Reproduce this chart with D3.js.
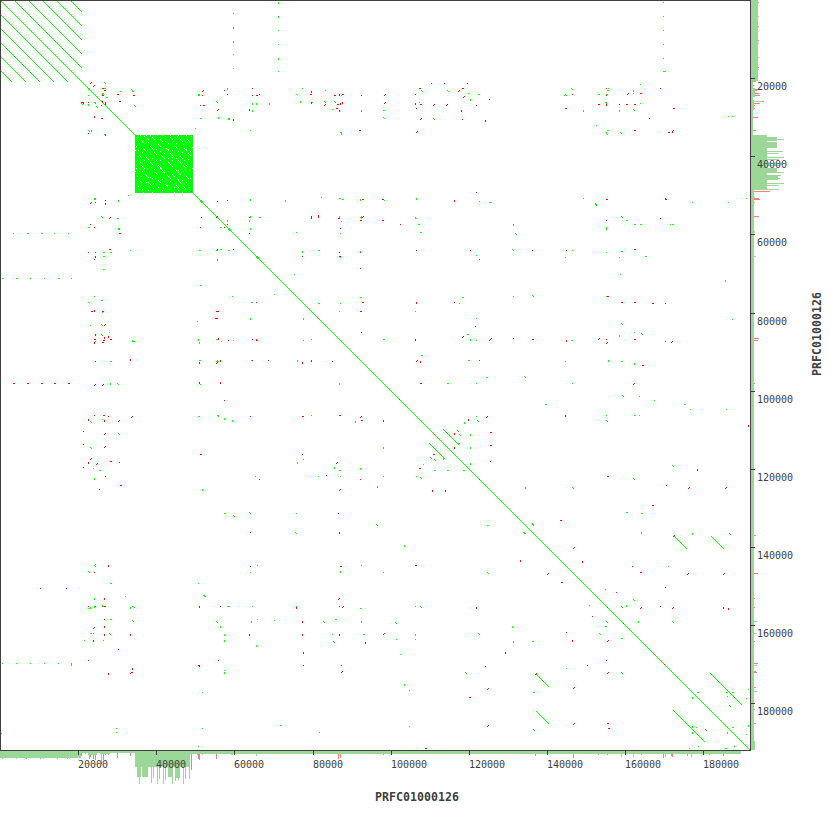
<!DOCTYPE html>
<html><head><meta charset="utf-8">
<script src="https://cdn.jsdelivr.net/npm/d3@7"></script>
<style>html,body{margin:0;background:#fff}svg{display:block}</style></head>
<body><div id="chart"></div>
<script>
// Dot plot of PRFC01000126 against itself. Hits are stored as window numbers (one window = 256 bp).
const sequenceName = "PRFC01000126";
const tickValues = [20000,40000,60000,80000,100000,120000,140000,160000,180000];
const windowBp = 256;
const lengthBp = 191744;

// Forward self-match runs: [startX, startY, windows]
const mainDiagonal = [[0,0,750]];
const tandemOffsets = [14,28,42,56,70];
const tandemEnd = 82;
const repeatLines = [[429,443,16],[536,674,13],[536,711,13],[673,710,32]];
const diagonalRedMarks = [191,318,399,434,479,607,623,654,664];
const diagonalBlobs = [201,229,257];
// Low-complexity block
const blockRange = [135,193];
const blockGaps = [[141,140,3],[147,138,2],[152,137,3],[160,139,3],[170,137,3],[180,139,3],[187,139,3],[143,148,3],[150,146,4],[158,144,3],[166,148,3],[175,146,3],[184,148,3],[139,155,3],[146,157,3],[154,152,3],[161,155,4],[170,153,4],[180,156,3],[188,153,3],[141,165,4],[150,162,3],[158,165,4],[168,162,5],[175,169,6],[178,160,4],[183,165,3],[186,165,2],[145,174,4],[155,172,3],[160,168,5],[167,175,5],[172,174,3],[178,180,4],[186,176,3],[139,180,3],[148,182,4],[158,180,3],[176,185,3],[165,184,3],[183,186,3],
[140,135,1],[146,135,1],[150,135,1],[157,135,1],[163,135,1],[170,135,1],[178,135,1],[186,135,1],[191,136,1],[143,192,1],[152,192,1],[161,192,1],[174,192,1],[182,192,1],[135,150,1],[135,171,1],[192,147,1],[192,168,1],[145,143,1],[165,141,1],[176,143,1],[149,152,1],[172,160,1],[142,171,1],[152,178,1],[183,171,1],[163,188,1],[143,186,1],
[137,137,1],[139,143,1],[144,136,1],[148,142,1],[155,141,1],[163,146,1],[168,143,1],[173,141,1],[177,136,1],[183,144,1],[189,142,1],[136,146,1],[138,150,1],[142,152,1],[147,150,1],[151,154,1],[156,149,1],[160,151,1],[164,153,1],[168,149,1],[172,150,1],[178,151,1],[182,152,1],[186,149,1],[190,151,1],[137,160,1],[140,162,1],[144,160,1],[147,164,1],[152,158,1],[156,160,1],[160,160,1],[164,158,1],[168,158,1],[172,157,1],[176,158,1],[184,160,1],[188,159,1],[136,168,1],[139,171,1],[143,169,1],[147,168,1],[151,167,1],[154,169,1],[157,174,1],[163,163,1],[178,170,1],[181,172,1],[185,170,1],[189,170,1],[137,176,1],[141,176,1],[146,182,1],[150,177,1],[153,183,1],[159,184,1],[162,179,1],[167,185,1],[170,181,1],[174,187,1],[178,179,1],[182,180,1],[186,182,1],[190,178,1],[138,186,1],[142,189,1],[148,190,1],[153,188,1],[158,187,1],[162,190,1],[169,189,1],[173,190,1],[178,190,1],[185,189,1],[189,187,1]];

// Hits below the diagonal, each one also appears mirrored above it: [x, y]
const green = [[128,195],[13,233],[54,233],[68,233],[30,278],[44,278],[71,278],[30,663],[2,663],[16,663],[44,663],[58,663],[71,663],[94,296],[88,302],[102,312],[197,321],[90,325],[109,332],[95,341],[217,360],[218,361],[200,384],[102,419],[93,468],[202,489],[95,564],[125,596],[88,608],[134,607],[93,633],[84,640],[103,640],[224,670],[116,728],[116,732],[202,728],[198,746],[232,296],[274,294],[303,340],[311,339],[251,360],[311,415],[221,341],[233,340],[303,459],[255,476],[318,476],[340,476],[383,476],[423,464],[416,476],[589,605],[566,668],[696,727],[689,748],[698,746],[734,746],[296,513],[250,572],[383,572],[361,565],[257,565],[198,583],[252,606],[415,606],[257,619],[274,620],[332,634],[396,639],[415,639],[400,654],[224,670],[409,690],[202,692],[202,728],[319,732],[409,726],[233,340],[130,250]];
const greenH = [[27,233],[41,233],[2,278],[16,278],[58,278],[101,300],[110,361],[216,339],[216,361],[199,360],[110,583],[90,633],[99,470],[110,619],[228,606],[103,606],[132,606],[199,250],[216,250],[220,249],[228,250],[200,285],[251,302],[198,416],[339,470],[434,470],[447,470],[463,470],[224,513],[487,525],[227,606],[360,608],[335,619],[363,634],[280,725],[725,748],[605,626],[621,638],[532,641],[533,692],[103,252],[110,252],[103,256],[103,269],[88,227],[94,198],[94,199],[117,218],[118,228],[118,229],[259,217],[256,340],[133,341]];
const greenV = [[118,200],[132,340],[198,339],[199,342],[218,338],[110,383],[218,415],[94,478],[94,598],[90,607],[94,606],[102,605],[130,607],[220,626],[224,634],[224,640],[71,664],[224,672],[227,220],[250,216],[303,318],[250,318],[224,418],[232,420],[297,360],[383,447],[297,462],[360,468],[377,486],[202,489],[339,383],[355,421],[404,545],[340,571],[296,606],[361,621],[512,626],[415,634],[513,641],[256,645],[404,684],[251,621],[692,697],[692,726],[692,732],[727,732],[443,458],[334,467]];
const greenD = [[101,216],[117,383],[90,421],[118,433],[90,447],[94,565],[88,571],[204,595],[132,620],[216,621],[109,633],[217,415],[233,515],[249,512],[376,524],[523,532],[295,532],[487,572],[203,595],[420,606],[323,621],[395,622],[478,633],[333,641],[465,672],[430,457],[434,459],[420,477],[524,532],[599,633],[606,621],[621,672],[533,729],[705,729],[101,324],[101,334]];
const red = [[105,200],[95,202],[90,224],[94,227],[88,252],[95,252],[94,259],[95,361],[94,415],[108,416],[83,431],[83,444],[119,462],[83,467],[105,476],[99,489],[94,572],[88,606],[95,606],[220,606],[104,619],[118,649],[88,660],[218,660],[199,666],[130,673],[201,217],[216,217],[200,227],[224,400],[227,224],[224,227],[233,249],[249,217],[228,340],[252,339],[252,360],[268,360],[256,302],[332,361],[250,416],[302,454],[259,479],[326,475],[360,479],[606,660],[592,616],[566,632],[587,665],[338,513],[250,532],[250,566],[339,606],[341,665],[485,666],[303,665],[199,666],[220,606],[218,660]];
const redH = [[119,233],[109,249],[91,311],[102,311],[216,311],[215,318],[94,339],[103,340],[110,339],[102,342],[103,415],[200,454],[110,461],[120,485],[198,665],[131,672],[104,606],[217,311],[216,318],[302,416],[339,415],[361,420],[200,454],[340,566],[415,565],[198,665],[469,697],[425,748],[433,454],[419,468],[561,582],[607,723],[608,728]];
const redV = [[105,203],[95,256],[94,310],[95,334],[108,336],[104,337],[94,342],[130,359],[199,362],[199,382],[88,419],[104,420],[88,462],[108,565],[104,598],[199,606],[104,626],[104,634],[130,634],[93,640],[132,668],[108,673],[218,338],[256,339],[302,362],[311,360],[311,217],[220,360],[220,382],[339,532],[296,607],[476,607],[302,621],[249,634],[302,634],[339,634],[365,642],[303,652],[505,652],[520,560],[432,490],[445,490],[572,640],[383,420]];
const redA = [[90,202],[109,217],[104,324],[216,362],[94,384],[102,384],[131,416],[118,420],[104,433],[104,446],[90,458],[96,463],[93,627],[336,462],[339,489],[360,416],[338,598],[342,606],[383,633],[341,671],[487,688],[487,725],[547,573],[607,640],[607,672],[573,687],[573,723],[535,673]];

// Hits that appear on one side of the diagonal only: [kind, x, y]
const oneSided = [["RA",90,82],["RA",93,85],["GD",104,82],["GH",88,89],["GV",89,88],["G",88,95],["RH",102,88],["GH",104,88],["RH",104,90],["GH",102,93],["GV",102,94],["RH",102,95],["GH",106,97],["RH",117,94],["GH",120,91],["GD",131,89],["GH",132,91],["RH",133,95],["RH",119,101],["RH",81,102],["RV",83,102],["GD",81,103],["R",88,102],["GV",88,104],["GH",94,102],["GV",95,102],["RV",102,101],["R",105,102],["R",101,105],["RV",105,103],["GD",96,106],["GD",134,105],["RV",94,116],["RH",101,118],["GD",88,130],["GV",91,130],["R",88,133],["GH",104,134],["RV",105,134],
["RH",13,383],["RH",27,383],["RH",41,383],["RH",54,383],["RH",68,383],["R",40,588],["R",66,588],["G",1,733],["RA",486,416],["R",490,461],["RV",454,447],["R",476,192],["G",479,201],["GH",490,202],["R",470,250],["RA",490,338],["RV",468,419],["G",464,422]];

// Coverage strips along both axes: [fromWindow, toWindow, depth], [window, depth]
const coverageBands = [[0,81,7],[81,88,2],[88,97,4],[97,100,2],[100,110,3],[110,135,2],[135,190,16],[190,741,3],[137,141,26],[142,148,26],[168,173,26],[175,180,27]];
const coverageTail = [[741,750,4]];
const coverageSpikes = [[2,8],[16,8],[43,8],[57,8],[101,11],[139,33],[151,32],[153,27],[157,33],[159,28],[163,33],[165,29],[172,33],[175,30],[178,29],[183,33],[185,28],[189,28],[197,4],[202,4],[231,4],[232,4],[256,5],[621,6],[633,6],[665,6],[691,6]];
const coverageRedSpikes = [[26,8],[40,8],[67,8],[81,5],[85,3],[89,8],[90,6],[93,8],[95,9],[101,13],[103,9],[105,4],[108,4],[117,7],[130,5],[191,19],[198,8],[199,9],[216,8],[338,8],[340,7],[383,4],[425,3],[535,5],[573,7],[598,4],[607,4],[641,4],[663,7],[671,5],[672,6],[687,5],[709,4],[723,5]];

const lime = "#00ff00", scarlet = "#ff0000", coverGreen = "#9bd796", coverRed = "#ff7b7b", ink = "#404040";

const x = d3.scaleLinear().domain([0,lengthBp]).range([0,749]);
const y = d3.scaleLinear().domain([0,lengthBp]).range([0,749]);
const depth = d3.scaleLinear().domain([0,40]).range([0,40]);

const svg = d3.select("#chart").append("svg").attr("width",830).attr("height",830).attr("shape-rendering","crispEdges");

// expand hit records into single windows
function runCells(sx,sy,n,c){ return d3.range(n).map(i=>({wx:sx+i,wy:sy+i,c})); }
const shapes = {
  G:(a,b)=>[[a,b]], GH:(a,b)=>[[a,b],[a+1,b]], GV:(a,b)=>[[a,b],[a,b+1]], GD:(a,b)=>[[a,b],[a+1,b+1]],
  R:(a,b)=>[[a,b]], RH:(a,b)=>[[a,b],[a+1,b]], RV:(a,b)=>[[a,b],[a,b+1]], RA:(a,b)=>[[a+1,b],[a,b+1]]
};
const mirrorKind = {G:"G",GH:"GV",GV:"GH",GD:"GD",R:"R",RH:"RV",RV:"RH",RA:"RA"};
let cells = [];
function addHit(kind,a,b){
  const c = kind[0]==="G" ? lime : scarlet;
  shapes[kind](a,b).forEach(p=>cells.push({wx:p[0],wy:p[1],c}));
}
[["G",green],["GH",greenH],["GV",greenV],["GD",greenD],["R",red],["RH",redH],["RV",redV],["RA",redA]].forEach(([k,list])=>{
  list.forEach(h=>{ addHit(k,h[0],h[1]); addHit(mirrorKind[k],h[1],h[0]); });
});
oneSided.forEach(h=>addHit(h[0],h[1],h[2]));

let lineCells = [];
mainDiagonal.forEach(r=>lineCells.push(...runCells(r[0],r[1],r[2],lime)));
tandemOffsets.forEach(o=>{
  lineCells.push(...runCells(o,0,tandemEnd-o,lime));
  lineCells.push(...runCells(1,o+1,tandemEnd-o-1,lime));
});
repeatLines.forEach(r=>{
  lineCells.push(...runCells(r[0],r[1],r[2],lime));
  lineCells.push(...runCells(r[1],r[0],r[2],lime));
});
diagonalBlobs.forEach(b=>{ lineCells.push({wx:b-1,wy:b,c:lime},{wx:b,wy:b-1,c:lime},{wx:b+1,wy:b,c:lime},{wx:b,wy:b+1,c:lime}); });

const cellW = x(windowBp)-x(0);
const plot = svg.append("g");

plot.selectAll("rect.line").data(lineCells).join("rect").attr("class","line")
  .attr("x",d=>x(d.wx*windowBp)).attr("y",d=>y(d.wy*windowBp)).attr("width",cellW).attr("height",cellW).attr("fill",d=>d.c);

plot.append("rect").attr("x",x(blockRange[0]*windowBp)).attr("y",y(blockRange[0]*windowBp))
  .attr("width",x((blockRange[1]-blockRange[0])*windowBp)).attr("height",y((blockRange[1]-blockRange[0])*windowBp)).attr("fill",lime);
const gapCells = blockGaps.flatMap(g=>runCells(g[0],g[1],g[2],"#fff"));
plot.selectAll("rect.gap").data(gapCells).join("rect").attr("class","gap")
  .attr("x",d=>x(d.wx*windowBp)).attr("y",d=>y(d.wy*windowBp)).attr("width",cellW).attr("height",cellW).attr("fill",d=>d.c);

plot.selectAll("rect.hit").data(cells.filter(d=>d.c===lime).concat(cells.filter(d=>d.c===scarlet))).join("rect").attr("class","hit")
  .attr("x",d=>x(d.wx*windowBp)).attr("y",d=>y(d.wy*windowBp)).attr("width",cellW).attr("height",cellW).attr("fill",d=>d.c);
plot.selectAll("rect.mark").data(diagonalRedMarks).join("rect").attr("class","mark")
  .attr("x",d=>x(d*windowBp)).attr("y",d=>y(d*windowBp)).attr("width",cellW).attr("height",cellW).attr("fill",scarlet);

// coverage strips
const stripX = 751, stripY = 751;
const bottomStrip = svg.append("g"), rightStrip = svg.append("g");
function drawStrip(g,bands,spikes,col,horizontal){
  const all = bands.map(b=>({a:b[0],w:b[1]-b[0],d:b[2]})).concat(spikes.map(s=>({a:s[0],w:1,d:s[1]})));
  const sel = g.append("g").selectAll("rect").data(all).join("rect").attr("fill",col);
  if(horizontal) sel.attr("x",d=>x(d.a*windowBp)).attr("y",stripY).attr("width",d=>x(d.w*windowBp)).attr("height",d=>depth(d.d));
  else sel.attr("y",d=>y(d.a*windowBp)).attr("x",stripX).attr("height",d=>y(d.w*windowBp)).attr("width",d=>depth(d.d));
}
drawStrip(bottomStrip,[],coverageRedSpikes,coverRed,true);
drawStrip(bottomStrip,coverageBands,coverageSpikes,coverGreen,true);
drawStrip(rightStrip,[],coverageRedSpikes,coverRed,false);
drawStrip(rightStrip,coverageBands.concat(coverageTail),coverageSpikes,coverGreen,false);

// frame
svg.append("rect").attr("x",0.5).attr("y",0.5).attr("width",750).attr("height",750).attr("fill","none").attr("stroke",ink).attr("stroke-width",1);

// axes
const fmt = d3.format("d");
const xAxis = svg.append("g").attr("transform","translate(0,750)")
  .call(d3.axisBottom(x).tickValues(tickValues).tickSize(5).tickPadding(0).tickFormat(fmt));
const yAxis = svg.append("g").attr("transform","translate(750,0)")
  .call(d3.axisRight(y).tickValues(tickValues).tickSize(5).tickPadding(0).tickFormat(fmt));
[xAxis,yAxis].forEach(a=>{
  a.select(".domain").remove();
  a.selectAll("line").attr("stroke",ink);
  a.selectAll("text").attr("font-family","'DejaVu Sans Mono',monospace").attr("font-size",10).attr("fill",ink).attr("dy",null).attr("text-anchor","start");
});
xAxis.selectAll(".tick").attr("transform",d=>`translate(${Math.round(x(d))+0.5},0)`);
xAxis.selectAll("text").attr("x",-0.5).attr("y",18);
yAxis.selectAll(".tick").attr("transform",d=>`translate(0,${Math.round(y(d))+0.5})`);
yAxis.selectAll("text").attr("x",7).attr("y",11);

// titles
const titleStyle = s=>s.attr("font-family","'DejaVu Sans Mono',monospace").attr("font-weight","bold").attr("font-size",11.6).attr("fill",ink).attr("text-anchor","middle").text(sequenceName);
svg.append("text").attr("x",417).attr("y",801).call(titleStyle);
svg.append("text").attr("transform","translate(821,334) rotate(-90)").call(titleStyle);
</script></body></html>
